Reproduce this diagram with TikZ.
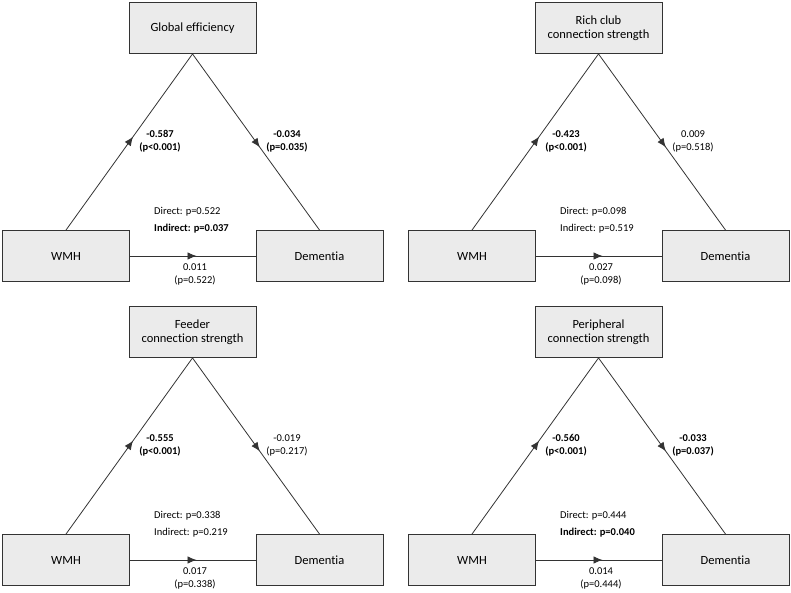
\documentclass[tikz,border=0pt]{standalone}
\usepackage{fontspec}
\setmainfont{Carlito}[Ligatures={NoCommon}]
\usetikzlibrary{decorations.markings,arrows.meta}
\definecolor{boxfill}{HTML}{EBEBEB}
\definecolor{linec}{HTML}{333333}
\tikzset{
  box/.style={draw=linec, fill=boxfill, line width=0.9pt, minimum width=127pt,
    minimum height=51pt, font=\fontsize{12.5}{14.5}\selectfont, align=center, inner sep=0pt},
  lbl/.style={font=\fontsize{10.5}{13}\selectfont, inner sep=0pt, align=center},
  lbll/.style={font=\fontsize{10.5}{13}\selectfont, inner sep=0pt, anchor=west},
  conn/.style={draw=linec, line width=0.8pt, postaction={decorate},
    decoration={markings, mark=at position 0.53 with {\arrow{Latex[length=9pt,width=7.5pt]}}}},
}
\newcommand\mpanel[8]{%
  \begin{scope}[shift={(#2)}]
    \node[box] (#1top) at (192.5,28) {#3};
    \node[box] (#1wmh) at (66,256) {WMH};
    \node[box] (#1dem) at (319.5,256) {Dementia};
    \draw[conn] (#1wmh.north) -- (#1top.south);
    \draw[conn] (#1top.south) -- (#1dem.north);
    \draw[conn] (#1wmh.east) -- (#1dem.west);
    \node[lbl] (#1la) at (160,141.5) {#4};
    \node[lbl] (#1ra) at (287,141.5) {#5};
    \node[lbll] (#1dir) at (154,212) {#6};
    \node[lbll] (#1ind) at (154,229) {#7};
    \node[lbl] (#1hl) at (195,274.5) {#8};
  \end{scope}}
\begin{document}
\begin{tikzpicture}[x=1pt,y=-1pt]
\useasboundingbox (0,0) rectangle (791,593);
\mpanel{p1}{0,0}{Global efficiency}
  {\textbf{-0.587}\\\textbf{(p<0.001)}}
  {\textbf{-0.034}\\\textbf{(p=0.035)}}
  {Direct: p=0.522}{\textbf{Indirect: p=0.037}}
  {0.011\\(p=0.522)}
\mpanel{p2}{406,0}{Rich club\\connection strength}
  {\textbf{-0.423}\\\textbf{(p<0.001)}}
  {0.009\\(p=0.518)}
  {Direct: p=0.098}{Indirect: p=0.519}
  {0.027\\(p=0.098)}
\mpanel{p3}{0,304}{Feeder\\connection strength}
  {\textbf{-0.555}\\\textbf{(p<0.001)}}
  {-0.019\\(p=0.217)}
  {Direct: p=0.338}{Indirect: p=0.219}
  {0.017\\(p=0.338)}
\mpanel{p4}{406,304}{Peripheral\\connection strength}
  {\textbf{-0.560}\\\textbf{(p<0.001)}}
  {\textbf{-0.033}\\\textbf{(p=0.037)}}
  {Direct: p=0.444}{\textbf{Indirect: p=0.040}}
  {0.014\\(p=0.444)}
\end{tikzpicture}
\end{document}
